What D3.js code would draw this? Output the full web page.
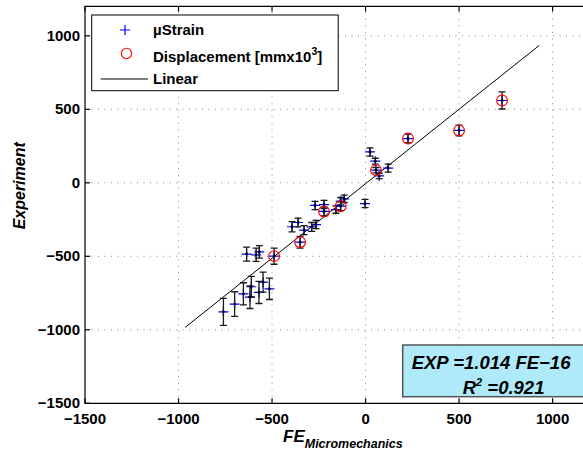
<!DOCTYPE html>
<html><head><meta charset="utf-8">
<script src="https://cdn.jsdelivr.net/npm/d3@7/dist/d3.min.js"></script>
<style>
body{margin:0;background:#fff;}
svg{display:block;font-family:"Liberation Sans",Arial,Helvetica,sans-serif;}
</style></head>
<body>
<svg id="chart" width="583" height="452"></svg>
<script>
// ---- data ----
const xTicks = [-1500, -1000, -500, 0, 500, 1000];
const yTicks = [-1500, -1000, -500, 0, 500, 1000];

// µStrain points: FE, Experiment, error (±)
const strainFE  = [-760, -700, -653, -618, -611, -570, -548, -514, -636, -585, -568, -393, -361, -329, -288, -265, -270, -222, -158, -133, -114, -3, 24, 52, 73, 121];
const strainEXP = [-878, -825, -755, -778, -707, -746, -676, -721, -485, -490, -470, -299, -270, -322, -300, -284, -154, -148, -182, -125, -109, -141, 210, 147, 47, 100];
const strainErr = [92, 84, 75, 77, 70, 75, 68, 73, 48, 45, 42, 35, 30, 30, 30, 28, 28, 28, 25, 25, 25, 28, 28, 20, 18, 27];

// Displacement points
const dispFE  = [-489, -350, -222, -133, 56, 227, 500, 730];
const dispEXP = [-499, -404, -195, -159, 86, 301, 356, 560];
const dispErr = [55, 40, 30, 30, 18, 30, 37, 58];

// Linear fit line endpoints
const linearFE  = [-965, 928];
const linearEXP = [-984, 934];

const legendLabels = ["\u00b5Strain", "Displacement [mmx10", "Linear"];
const fitLabel1 = "EXP =1.014 FE\u221216";
const fitLabel2 = "=0.921";

// ---- chart ----
const svg = d3.select("#chart");
const x = d3.scaleLinear().domain([-1500, 1200]).range([85, 590]);
const y = d3.scaleLinear().domain([-1500, 1200]).range([403.3, 6.4]);
const fmt = d => d < 0 ? "\u2212" + Math.abs(d) : String(d);

// grid
const grid = svg.append("g").attr("stroke", "#888").attr("stroke-width", 1)
  .attr("stroke-dasharray", "1,5.5");
grid.selectAll("line.gx").data(xTicks.slice(1)).join("line")
  .attr("x1", d => x(d)).attr("x2", d => x(d)).attr("y1", y(-1500)).attr("y2", y(1200));
grid.selectAll("line.gy").data(yTicks.slice(1)).join("line")
  .attr("y1", d => y(d)).attr("y2", d => y(d)).attr("x1", x(-1500)).attr("x2", x(1200));

// linear
svg.append("line")
  .attr("x1", x(linearFE[0])).attr("y1", y(linearEXP[0]))
  .attr("x2", x(linearFE[1])).attr("y2", y(linearEXP[1]))
  .attr("stroke", "#000").attr("stroke-width", 1);

function drawPoints(fe, ex, er, withCircle) {
  const data = fe.map((v, i) => ({x: v, y: ex[i], e: er[i]}));
  const g = svg.append("g");
  g.selectAll("path.plus").data(data).join("path")
    .attr("d", d => `M${x(d.x)-5},${y(d.y)}h10M${x(d.x)},${y(d.y)-5}v10`)
    .attr("stroke", "#0000ff").attr("stroke-width", 1.2).attr("fill", "none");
  g.selectAll("path.err").data(data).join("path")
    .attr("d", d => {
      const cx = x(d.x), y1 = y(d.y + d.e), y2 = y(d.y - d.e);
      return `M${cx},${y1}V${y2}M${cx-3.5},${y1}h7M${cx-3.5},${y2}h7`;
    })
    .attr("stroke", "#1a1a1a").attr("stroke-width", 1.3).attr("fill", "none");
  g.selectAll("circle.dot").data(data).join("circle")
    .attr("cx", d => x(d.x)).attr("cy", d => y(d.y)).attr("r", 1.4).attr("fill", "#000");
  if (withCircle) {
    g.selectAll("circle.ring").data(data).join("circle")
      .attr("cx", d => x(d.x)).attr("cy", d => y(d.y)).attr("r", 5.4)
      .attr("fill", "none").attr("stroke", "#ff0000").attr("stroke-width", 1.1);
  }
}
drawPoints(strainFE, strainEXP, strainErr, false);
drawPoints(dispFE, dispEXP, dispErr, true);

// axes box
const ax = svg.append("g").attr("stroke", "#000").attr("stroke-width", 1.2).attr("fill", "none");
ax.append("path").attr("d", `M${x(1200)},${y(1200)}H${x(-1500)}V${y(-1500)}H${x(1200)}`);
ax.selectAll("path.tx").data(xTicks).join("path")
  .attr("d", d => `M${x(d)},${y(-1500)}v-5M${x(d)},${y(1200)}v5`);
ax.selectAll("path.ty").data(yTicks).join("path")
  .attr("d", d => `M${x(-1500)},${y(d)}h5`);

// tick labels
const tl = svg.append("g").attr("font-size", "15px").attr("font-weight", "bold").attr("fill", "#000");
tl.selectAll("text.x").data(xTicks).join("text")
  .attr("x", d => x(d)).attr("y", 423.5).attr("text-anchor", "middle").text(fmt);
tl.selectAll("text.y").data(yTicks).join("text")
  .attr("x", 80).attr("y", d => y(d) + 5).attr("text-anchor", "end").text(fmt);

// axis titles
const xt = svg.append("text").attr("x", 283).attr("y", 442)
  .attr("font-weight", "bold").attr("font-style", "italic").attr("font-size", "17px");
xt.append("tspan").text("FE");
xt.append("tspan").attr("font-size", "12.5px").attr("dy", 6).text("Micromechanics");

svg.append("text").attr("transform", `translate(25,${y(0)+3}) rotate(-90)`)
  .attr("text-anchor", "middle").attr("font-weight", "bold").attr("font-style", "italic")
  .attr("font-size", "16px").text("Experiment");

// legend
const lg = svg.append("g");
lg.append("rect").attr("x", 91.7).attr("y", 15).attr("width", 246.5).attr("height", 75.7)
  .attr("fill", "#fff").attr("stroke", "#000").attr("stroke-width", 1);
lg.append("path").attr("d", "M120,30h10M125,25v10").attr("stroke", "#0000ff").attr("stroke-width", 1.2);
lg.append("circle").attr("cx", 126.5).attr("cy", 53.5).attr("r", 5.2)
  .attr("fill", "none").attr("stroke", "#ff0000").attr("stroke-width", 1.1);
lg.append("line").attr("x1", 100.7).attr("x2", 148).attr("y1", 79).attr("y2", 79)
  .attr("stroke", "#000").attr("stroke-width", 1);
const lgt = lg.append("g").attr("font-weight", "bold").attr("font-size", "15px");
lgt.append("text").attr("x", 153).attr("y", 35).text(legendLabels[0]);
const dl = lgt.append("text").attr("x", 153).attr("y", 62);
dl.append("tspan").text(legendLabels[1]);
dl.append("tspan").attr("font-size", "10.5px").attr("dy", -7).text("3");
dl.append("tspan").attr("dy", 7).text("]");
lgt.append("text").attr("x", 153).attr("y", 83.5).text(legendLabels[2]);

// fit annotation
const an = svg.append("g");
an.append("rect").attr("x", 402.7).attr("y", 345).attr("width", 200).attr("height", 51.7)
  .attr("fill", "#aeeaf9").attr("stroke", "#555").attr("stroke-width", 1.5);
const at = an.append("g").attr("font-weight", "bold").attr("font-style", "italic").attr("font-size", "18.5px");
at.append("text").attr("x", 411.7).attr("y", 369).text(fitLabel1);
const r2 = at.append("text").attr("x", 462.7).attr("y", 394);
r2.append("tspan").text("R");
r2.append("tspan").attr("font-size", "11px").attr("dy", -8).text("2");
r2.append("tspan").attr("dy", 8).text(" " + fitLabel2);
</script>
</body></html>
